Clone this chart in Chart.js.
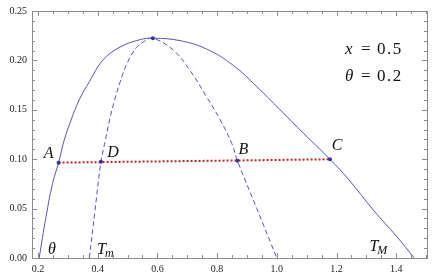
<!DOCTYPE html>
<html>
<head>
<meta charset="utf-8">
<script src="https://cdn.jsdelivr.net/npm/chart.js@4.4.1/dist/chart.umd.min.js"></script>
<style>
html,body{margin:0;padding:0;background:#fff;}
#wrap{width:436px;height:280px;}
</style>
</head>
<body>
<div id="wrap"><canvas id="c" width="436" height="280"></canvas></div>
<script>
// ---- data ----
const solidX = [0.204, 0.227, 0.249, 0.269, 0.288, 0.311, 0.338, 0.372, 0.418, 0.475, 0.542, 0.585, 0.676, 0.765, 0.854, 0.933, 1.011, 1.090, 1.178, 1.240, 1.323, 1.402, 1.460];
const solidY = [0.000, 0.0418, 0.0756, 0.0965, 0.1194, 0.1397, 0.160, 0.1784, 0.2005, 0.2135, 0.221, 0.2225, 0.220, 0.2115, 0.195, 0.1734, 0.150, 0.126, 0.0999, 0.0797, 0.0486, 0.0216, 0.000];
const dashX = [0.372, 0.391, 0.411, 0.425, 0.440, 0.455, 0.475, 0.500, 0.530, 0.560, 0.585, 0.653, 0.709, 0.765, 0.810, 0.849, 0.868, 0.933, 1.000];
const dashY = [0.000, 0.048, 0.0975, 0.118, 0.140, 0.158, 0.178, 0.198, 0.213, 0.220, 0.2225, 0.2105, 0.190, 0.163, 0.140, 0.116, 0.0985, 0.050, 0.000];
const tieX = [0.269, 1.178];
const tieY = [0.0965, 0.0999];
const markNames = ['A', 'D', 'B', 'C', ''];
const markX = [0.269, 0.411, 0.868, 1.178, 0.585];
const markY = [0.0965, 0.0975, 0.0985, 0.0999, 0.2225];
const xTickVals = [0.2, 0.4, 0.6, 0.8, 1.0, 1.2, 1.4];
const xTickLabels = ['0.2', '0.4', '0.6', '0.8', '1.0', '1.2', '1.4'];
const yTickVals = [0.00, 0.05, 0.10, 0.15, 0.20, 0.25];
const yTickLabels = ['0.00', '0.05', '0.10', '0.15', '0.20', '0.25'];
const xMinor = [0.2,0.25,0.3,0.35,0.4,0.45,0.5,0.55,0.6,0.65,0.7,0.75,0.8,0.85,0.9,0.95,1.0,1.05,1.1,1.15,1.2,1.25,1.3,1.35,1.4,1.45,1.5];
const yMinor = [0.01,0.02,0.03,0.04,0.06,0.07,0.08,0.09,0.11,0.12,0.13,0.14,0.16,0.17,0.18,0.19,0.21,0.22,0.23,0.24];
const paramNames = ['x', 'θ'];
const paramValues = ['0.5', '0.2'];

const pts = (xs, ys) => xs.map((x, i) => ({x: x, y: ys[i]}));

const blue = 'rgb(85,85,175)';
const frameColor = '#8c8c8c';

// label placements relative to marks / axes
const curveLabels = [
  {t: markNames[0], x: markX[0], y: markY[0], dx: -10, dy: -9},
  {t: markNames[1], x: markX[1], y: markY[1], dx: 12, dy: -9},
  {t: markNames[2], x: markX[2], y: markY[2], dx: 6, dy: -11},
  {t: markNames[3], x: markX[3], y: markY[3], dx: 7, dy: -14},
  {t: 'θ', x: 0.247, y: 0.008, dx: 0, dy: 0},
];

const framePlugin = {
  id: 'frame',
  afterDatasetsDraw(chart) {
    const ctx = chart.ctx;
    const a = chart.chartArea;
    const xs = chart.scales.x, ys = chart.scales.y;
    ctx.save();
    ctx.strokeStyle = frameColor;
    ctx.lineWidth = 1;
    ctx.strokeRect(Math.round(a.left) + 0.5, Math.round(a.top) + 0.5, Math.round(a.right - a.left), Math.round(a.bottom - a.top));
    ctx.beginPath();
    const major = 5, minor = 3;
    xMinor.forEach(v => {
      const p = Math.round(xs.getPixelForValue(v)) + 0.5;
      if (p < a.left || p > a.right) return;
      const isMajor = xTickVals.some(t => Math.abs(t - v) < 1e-6);
      const L = isMajor ? major : minor;
      ctx.moveTo(p, a.bottom); ctx.lineTo(p, a.bottom - L);
      ctx.moveTo(p, a.top); ctx.lineTo(p, a.top + L);
    });
    yTickVals.concat(yMinor).forEach(v => {
      const p = Math.round(ys.getPixelForValue(v)) + 0.5;
      if (p < a.top - 1 || p > a.bottom + 1) return;
      const isMajor = yTickVals.some(t => Math.abs(t - v) < 1e-6);
      const L = isMajor ? major : minor;
      ctx.moveTo(a.left, p); ctx.lineTo(a.left + L, p);
      ctx.moveTo(a.right, p); ctx.lineTo(a.right - L, p);
    });
    ctx.stroke();

    // text labels
    ctx.fillStyle = '#111';
    ctx.textAlign = 'center';
    ctx.textBaseline = 'middle';
    ctx.font = 'italic 16px "Liberation Serif"';
    curveLabels.forEach(l => {
      ctx.fillText(l.t, xs.getPixelForValue(l.x) + l.dx, ys.getPixelForValue(l.y) + l.dy);
    });
    const drawT = (xv, yv, sub) => {
      const px = xs.getPixelForValue(xv), py = ys.getPixelForValue(yv);
      ctx.font = 'italic 16px "Liberation Serif"';
      ctx.textAlign = 'left';
      ctx.fillText('T', px, py);
      const w = ctx.measureText('T').width;
      ctx.font = 'italic 12px "Liberation Serif"';
      ctx.fillText(sub, px + w - 1, py + 4);
    };
    drawT(0.398, 0.008, 'm');
    drawT(1.310, 0.011, 'M');
    // parameter text
    ctx.textAlign = 'left';
    [50, 77].forEach((py, i) => {
      ctx.font = 'italic 17px "Liberation Serif"';
      ctx.fillText(paramNames[i], 345, py);
      ctx.font = '17px "Liberation Serif"';
      ctx.fillText('=', 361, py);
      ctx.letterSpacing = '1.5px';
      ctx.fillText(paramValues[i], 377, py);
      ctx.letterSpacing = '0px';
    });
    ctx.restore();
  }
};

new Chart(document.getElementById('c'), {
  type: 'scatter',
  data: {
    datasets: [
      {data: pts(tieX, tieY), showLine: true, borderColor: 'rgb(205,30,30)', borderWidth: 2, borderDash: [2, 2], pointRadius: 0, order: 3},
      {data: pts(solidX, solidY), showLine: true, borderColor: blue, borderWidth: 1, pointRadius: 0, tension: 0.4, order: 2},
      {data: pts(dashX, dashY), showLine: true, borderColor: blue, borderWidth: 1, borderDash: [5, 3], pointRadius: 0, tension: 0.4, order: 2},
      {data: pts(markX, markY), showLine: false, pointRadius: 2, pointBackgroundColor: 'rgb(50,50,170)', pointBorderWidth: 0, order: 1}
    ]
  },
  options: {
    responsive: false,
    animation: false,
    events: [],
    layout: {padding: {top: 11, right: 9, left: 0, bottom: 0}},
    plugins: {legend: {display: false}, tooltip: {enabled: false}},
    scales: {
      x: {
        type: 'linear', min: 0.18, max: 1.503,
        grid: {display: false, drawTicks: false},
        border: {display: false},
        afterBuildTicks: s => { s.ticks = xTickVals.map(v => ({value: v})); },
        afterFit: s => { s.height = 22; },
        ticks: {
          padding: 5, color: '#222', maxRotation: 0, autoSkip: false,
          font: {family: '"Liberation Serif"', size: 10},
          callback: (v) => { const i = xTickVals.findIndex(t => Math.abs(t - v) < 1e-6); return i >= 0 ? xTickLabels[i] : ''; }
        }
      },
      y: {
        type: 'linear', min: 0, max: 0.25,
        grid: {display: false, drawTicks: false},
        border: {display: false},
        afterBuildTicks: s => { s.ticks = yTickVals.map(v => ({value: v})); },
        afterFit: s => { s.width = 32; },
        ticks: {
          padding: 5, color: '#222', autoSkip: false,
          font: {family: '"Liberation Serif"', size: 10},
          callback: (v) => { const i = yTickVals.findIndex(t => Math.abs(t - v) < 1e-6); return i >= 0 ? yTickLabels[i] : ''; }
        }
      }
    }
  },
  plugins: [framePlugin]
});
</script>
</body>
</html>
